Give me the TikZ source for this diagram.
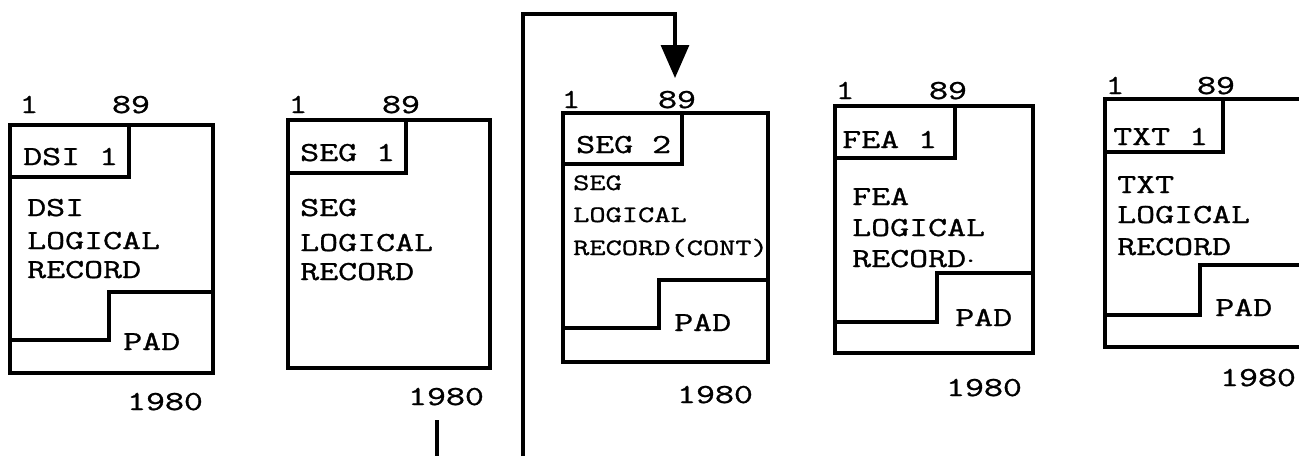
\documentclass[tikz,border=0pt]{standalone}
\usepackage{fontspec}
\newfontfamily\recmono[FakeBold=0.9]{Latin Modern Mono}
\usetikzlibrary{arrows.meta}
\newcommand\recwide[1]{\scalebox{1.34}[1]{#1}}
\tikzset{
  boxline/.style={line width=3.6pt, line join=miter, line cap=butt},
  lbl/.style={font=\recmono\fontsize{27.5}{27.5}\selectfont, inner sep=0pt, anchor=base west},
  lblc/.style={font=\recmono\fontsize{27.5}{27.5}\selectfont, inner sep=0pt, anchor=base},
  lblsm/.style={font=\recmono\fontsize{23.5}{23.5}\selectfont, inner sep=0pt, anchor=base west},
  flow/.style={line width=3.2pt, -{Triangle[width=28pt,length=33pt]}}
}
\begin{document}
\begin{tikzpicture}[x=1pt,y=-1pt]
\useasboundingbox (0,0) rectangle (1299,456);
\clip (0,0) rectangle (1299,456);

% ---------- Box 1: DSI ----------
\draw[boxline] (10,125) rectangle (213,373);
\draw[boxline] (10,177) -| (129,125);
\draw[boxline] (10,340) -| (109,292) -- (213,292);
\node[lblc] (b1one) at (29,113) {\recwide{1}};
\node[lblc] (b1end) at (131,113) {\recwide{89}};
\node[lbl] (b1hd) at (23,165) {\recwide{DSI 1}};
\node[lbl] (b1l1) at (27,216) {\recwide{DSI}};
\node[lbl] (b1l2) at (27,249) {\recwide{LOGICAL}};
\node[lbl] (b1l3) at (27,278) {\recwide{RECORD}};
\node[lbl] (b1pad) at (123,350) {\recwide{PAD}};
\node[lblc] (b1len) at (165,410) {\recwide{1980}};

% ---------- Box 2: SEG 1 ----------
\draw[boxline] (288,120) rectangle (490,368);
\draw[boxline] (288,173) -| (406,120);
\node[lblc] (b2one) at (298,113) {\recwide{1}};
\node[lblc] (b2end) at (401,113) {\recwide{89}};
\node[lbl] (b2hd) at (300,161) {\recwide{SEG 1}};
\node[lbl] (b2l1) at (300,216) {\recwide{SEG}};
\node[lbl] (b2l2) at (300,251) {\recwide{LOGICAL}};
\node[lbl] (b2l3) at (300,280) {\recwide{RECORD}};
\node[lblc] (b2len) at (446,405) {\recwide{1980}};
\coordinate (b2tickA) at (437,420);
\coordinate (b2tickB) at (437,456);
\draw[line width=3.2pt] (b2tickA) -- (b2tickB);

% ---------- Box 3: SEG 2 ----------
\draw[boxline] (563,113) rectangle (768,362);
\draw[boxline] (563,164) -| (682,113);
\draw[boxline] (563,328) -| (659,280) -- (768,280);
\node[lblc] (b3one) at (571,108) {\recwide{1}};
\node[lblc] (b3end) at (677,108) {\recwide{89}};
\node[lbl] (b3hd) at (576,153) {\recwide{SEG 2}};
\node[lblsm] (b3l1) at (573,190) {\recwide{SEG}};
\node[lblsm] (b3l2) at (573,222) {\recwide{LOGICAL}};
\node[lblsm] (b3l3) at (573,255) {\recwide{RECORD(CONT)}};
\node[lbl] (b3pad) at (674,331) {\recwide{PAD}};
\node[lblc] (b3len) at (715,403) {\recwide{1980}};
\coordinate (arrS) at (523,456);
\coordinate (arrC) at (523,14);
\coordinate (arrT) at (675,78);
\draw[flow] (arrS) -- (arrC) -| (arrT);

% ---------- Box 4: FEA 1 ----------
\draw[boxline] (835,106) rectangle (1033,353);
\draw[boxline] (835,158) -| (955,106);
\draw[boxline] (835,322) -| (937,273) -- (1033,273);
\node[lblc] (b4one) at (845,99) {\recwide{1}};
\node[lblc] (b4end) at (948,99) {\recwide{89}};
\node[lbl] (b4hd) at (842,148) {\recwide{FEA 1}};
\node[lbl] (b4l1) at (852,205) {\recwide{FEA}};
\node[lbl] (b4l2) at (852,236) {\recwide{LOGICAL}};
\node[lbl] (b4l3) at (852,267) {\recwide{RECORD$\cdot$}};
\node[lbl] (b4pad) at (955,326) {\recwide{PAD}};
\node[lblc] (b4len) at (984,396) {\recwide{1980}};

% ---------- Box 5: TXT 1 (cut at right edge) ----------
\draw[boxline] (1310,99) -- (1105,99) -- (1105,347) -- (1310,347);
\draw[boxline] (1105,152) -| (1223,99);
\draw[boxline] (1105,315) -| (1200,265) -- (1310,265);
\node[lblc] (b5one) at (1115,94) {\recwide{1}};
\node[lblc] (b5end) at (1216,94) {\recwide{89}};
\node[lbl] (b5hd) at (1113,145) {\recwide{TXT 1}};
\node[lbl] (b5l1) at (1117,193) {\recwide{TXT}};
\node[lbl] (b5l2) at (1117,223) {\recwide{LOGICAL}};
\node[lbl] (b5l3) at (1117,255) {\recwide{RECORD}};
\node[lbl] (b5pad) at (1215,316) {\recwide{PAD}};
\node[lblc] (b5len) at (1258,386) {\recwide{1980}};
\end{tikzpicture}
\end{document}
